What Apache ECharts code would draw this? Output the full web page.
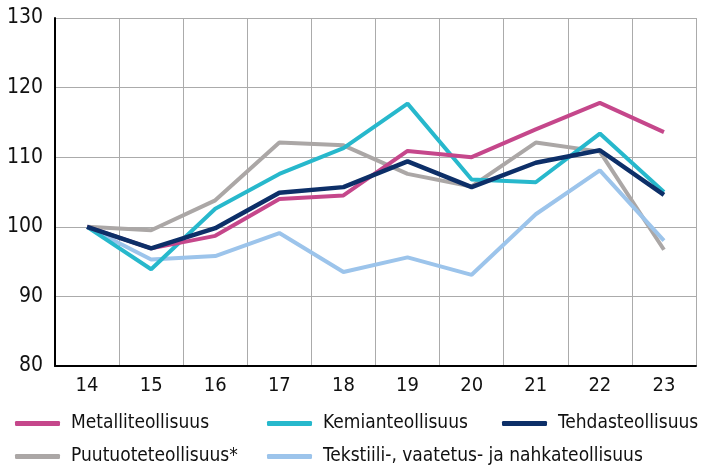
<!DOCTYPE html>
<html>
<head>
<meta charset="utf-8">
<script src="https://cdn.jsdelivr.net/npm/echarts@6/dist/echarts.min.js"></script>
<style>
  html, body { margin: 0; padding: 0; background: #fff; }
  #chart { width: 713px; height: 468px; }
</style>
</head>
<body>
<div id="chart"></div>
<script>
const years = ['14', '15', '16', '17', '18', '19', '20', '21', '22', '23']

const metalli = [100, 96.9, 98.7, 104.0, 104.5, 110.9, 110.0, 114.0, 117.8, 113.6]
const kemian = [100, 93.9, 102.6, 107.6, 111.3, 117.7, 106.8, 106.4, 113.4, 105.0]
const tehdas = [100, 96.9, 99.8, 104.9, 105.7, 109.4, 105.7, 109.2, 111.0, 104.6]
const puutuote = [100, 99.5, 103.8, 112.1, 111.7, 107.6, 105.8, 112.1, 110.8, 96.7]
const tekstiili = [100, 95.3, 95.8, 99.1, 93.5, 95.6, 93.1, 101.8, 108.1, 98.0]

const font = "'Liberation Sans Narrow', 'DejaVu Sans Condensed', sans-serif"

// 系列：名称、数据、颜色、线宽
const seriesDefs = [
  { name: 'Puutuoteteollisuus*', data: puutuote, color: '#aba7a6', width: 4 },
  { name: 'Tekstiili-, vaatetus- ja nahkateollisuus', data: tekstiili, color: '#9cc4eb', width: 4 },
  { name: 'Kemianteollisuus', data: kemian, color: '#27b8cc', width: 4 },
  { name: 'Metalliteollisuus', data: metalli, color: '#c5478b', width: 4 },
  { name: 'Tehdasteollisuus', data: tehdas, color: '#0d2f68', width: 4.5 },
]

// 图例位置（两行三列）
const legendPos = [
  { name: 'Metalliteollisuus', left: 15, top: 414 },
  { name: 'Kemianteollisuus', left: 267, top: 414 },
  { name: 'Tehdasteollisuus', left: 502, top: 414 },
  { name: 'Puutuoteteollisuus*', left: 15, top: 447 },
  { name: 'Tekstiili-, vaatetus- ja nahkateollisuus', left: 267, top: 447 },
]

const chart = echarts.init(document.getElementById('chart'))
chart.setOption({
  animation: false,
  textStyle: { fontFamily: font },
  grid: { left: 55, right: 17, top: 18, bottom: 102 },
  legend: legendPos.map(l => ({
    data: [l.name],
    left: l.left,
    top: l.top,
    icon: 'roundRect',
    itemWidth: 45,
    itemHeight: 5,
    itemGap: 0,
    padding: 0,
    textStyle: { fontFamily: font, fontSize: 19, color: '#111', padding: [0, 0, 0, 6] },
  })),
  xAxis: {
    type: 'category',
    data: years,
    boundaryGap: true,
    axisLine: { lineStyle: { color: '#000', width: 2 } },
    axisTick: { show: false },
    axisLabel: { fontSize: 20, color: '#111', margin: 10, fontFamily: font },
    splitLine: { show: true, lineStyle: { color: '#ababab', width: 1 } },
  },
  yAxis: {
    type: 'value',
    min: 80,
    max: 130,
    interval: 10,
    axisLine: { show: true, lineStyle: { color: '#000', width: 2 } },
    axisTick: { show: false },
    axisLabel: { fontSize: 21, color: '#111', margin: 12, fontFamily: font, padding: [4, 0, 0, 0] },
    splitLine: { lineStyle: { color: '#ababab', width: 1 } },
  },
  series: seriesDefs.map(s => ({
    name: s.name,
    type: 'line',
    data: s.data,
    symbol: 'none',
    color: s.color,
    lineStyle: { color: s.color, width: s.width },
  })),
})
</script>
</body>
</html>
